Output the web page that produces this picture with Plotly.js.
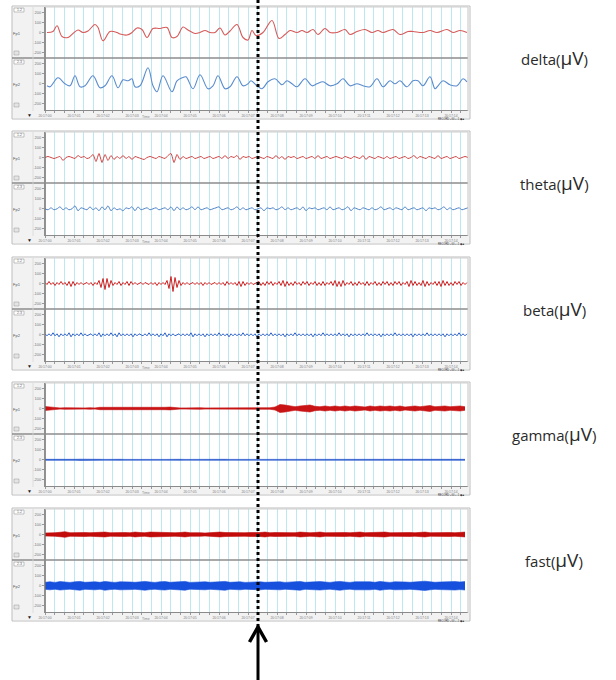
<!DOCTYPE html>
<html><head><meta charset="utf-8">
<script src="https://cdn.plot.ly/plotly-3.0.1.min.js"></script>
<style>html,body{margin:0;padding:0;background:#fff;}#chart{width:616px;height:680px;}</style>
</head><body><div id="chart"></div>
<script>
// ---------- DATA (x in samples, 29 samples = 1 s; y in microvolts) ----------
const bandNames = ['delta', 'theta', 'beta', 'gamma', 'fast'];
const channelNames = ['Fp1', 'Fp2'];
const timeTickVals = [0, 29, 58, 87, 116, 145, 174, 203, 232, 261, 290, 319, 348, 377, 406];
const timeTickText = ['20:17:00', '20:17:01', '20:17:02', '20:17:03', '20:17:04', '20:17:05', '20:17:06', '20:17:07',
  '20:17:08', '20:17:09', '20:17:10', '20:17:11', '20:17:12', '20:17:13', '20:17:14'];
const gridStep = 29 / 3;
const yTickVals = [-200, -100, 0, 100, 200];
const yTickText = ['-200', '-100', '0', '100', '200'];

// delta (slow waves, key points)
const deltaRedX = [2,8,12,17,23,28,33,38,43,50,53,58,65,72,75,82,87,92,97,102,108,115,122,127,132,138,143,150,155,160,165,170,175,180,185,192,198,203,207,211,218,227,234,240,245,252,257,262,268,273,280,285,292,300,305,312,320,327,333,338,348,355,363,368,378,385,392,402,408,415,422];
const deltaRedV = [0,10,67,-40,-50,-10,25,0,15,80,50,-83,10,0,-15,-25,0,45,30,-50,40,40,50,-50,-40,55,25,-10,0,20,0,0,45,-25,15,80,-50,-75,20,-30,0,120,-60,-20,20,0,20,0,30,-20,40,0,0,30,-20,10,30,0,20,0,30,-20,10,10,0,20,0,30,0,20,0];
const deltaBlueX = [2,5,13,20,25,30,35,40,48,55,60,67,73,78,83,87,90,95,103,108,112,118,127,132,137,141,148,155,163,168,173,180,185,192,198,203,206,212,217,223,230,237,242,247,252,260,267,272,278,285,292,298,305,312,318,325,332,338,345,350,355,362,368,373,378,385,390,393,398,405,412,418,422];
const deltaBlueV = [-20,-30,60,0,-20,80,-30,-20,80,-40,-20,80,-40,40,30,50,-30,-20,160,-20,-80,80,-80,30,60,70,-50,90,-50,-20,80,-50,-30,70,-20,0,30,-20,-50,20,50,-10,30,0,-30,50,-20,0,20,-20,0,50,-20,0,-20,-30,50,-30,30,0,30,-30,30,30,-20,70,-50,-20,30,-10,-20,50,20];

// theta (one value every 3 samples)
const thetaRedV = [0,10,0,-10,0,10,-30,0,10,0,-10,20,0,10,-10,0,30,-40,40,-50,30,-30,20,
  -20,10,-10,20,-10,10,-20,10,0,-10,-20,0,10,0,-10,10,0,-10,20,40,-50,30,-20,
  10,-10,0,10,-10,0,10,-10,0,10,-10,0,10,-10,20,-10,10,0,20,-20,10,0,10,
  -10,0,10,0,-10,10,0,-10,20,-10,10,-20,10,0,10,-10,0,10,-10,0,10,-10,20,-10,0,10,-10,0,10,0,
  -10,10,0,-10,10,0,-10,20,-20,10,0,-10,10,0,-10,10,-10,0,10,-10,0,10,-10,0,20,-10,10,0,-10,10,
  0,-10,20,-10,0,10,-10,0,10,-10,0,10,0];
const thetaBlueV = [0,-10,10,-10,0,20,-10,10,-10,0,30,-20,10,0,-10,20,-10,10,-20,20,-10,30,-20,10,-10,0,-20,10,0,20,
  -20,20,-10,0,10,-10,0,10,-10,0,10,-10,20,-20,20,-10,10,-10,0,20,-10,20,-10,0,10,-10,0,10,20,-10,0,10,-10,0,20,-10,10,-10,0,
  10,-10,0,10,-20,10,0,10,-10,0,20,-10,10,-10,0,10,-10,20,-20,10,0,10,-10,0,10,-10,20,-10,0,10,
  -10,0,20,-20,10,0,-10,10,0,-10,10,-10,0,20,-10,0,10,-10,10,0,-10,20,-10,0,10,-10,0,10,-20,10,
  0,10,-10,0,20,-10,10,-10,0,10,-10,0,10];

// beta (one value every 2 samples)
const betaRedV = [10,-10,20,-10,10,-20,10,-10,20,-10,10,-20,20,-30,20,-20,10,-10,10,-10,0,10,-10,10,-20,10,-10,
  30,-40,50,-60,50,-40,30,-20,
  10,-10,20,-20,10,-10,20,-20,20,-10,10,-10,0,10,-10,10,0,-10,10,-10,10,-20,10,-10,10,-10,
  30,-50,70,-80,60,-40,30,-20,
  10,-10,10,-10,0,10,-10,10,-10,10,-20,10,-10,10,-10,0,10,-10,10,-10,10,-20,20,-10,10,-10,10,-20,20,-30,20,-20,10,-10,10,-10,0,10,
  20,-20,10,-20,20,-10,20,-20,10,-10,20,-20,30,-30,20,-20,10,-20,20,-10,10,-20,20,-10,20,-20,10,-10,20,-20,
  10,-20,20,-20,10,-10,20,-20,30,-30,20,-30,30,-20,10,-10,20,-20,10,-20,20,-10,10,-20,20,-20,10,-10,20,-20,
  10,-20,20,-10,20,-20,10,-20,20,-10,20,-20,10,-10,20,-30,30,-20,20,-20,10,-20,30,-30,20,-20,10,-10,20,-20,
  20,-30,30,-20,20,-20,10,-20,20,-10,20,-20,10,-10,10];
const betaBlueV = [10,-10,10,-10,20,-10,10,-20,10,-10,10,-10,20,-20,10,-10,10,-10,20,-10,10,-10,0,10,-10,10,-10,20,-20,10,
  -10,10,-10,20,-10,10,-20,20,-10,10,-10,10,-10,10,-20,10,-10,10,0,-10,10,-10,20,-10,10,-10,10,-20,10,-10,
  20,-20,10,-10,10,-10,0,10,-10,10,-10,10,-10,20,-20,10,-10,10,-10,10,-20,10,-10,10,-10,10,-10,20,-10,10,
  -10,10,-20,10,-10,10,-10,10,-10,20,-10,10,-10,10,-10,10,-20,10,-10,10,-10,10,-10,20,-10,10,-10,10,-10,10,
  -20,10,-10,10,-10,20,-10,10,-10,10,-10,10,-10,10,-20,10,-10,10,-10,20,-10,10,-10,10,-10,10,-10,20,-10,10,
  -10,10,-20,10,-10,10,-10,10,-10,10,-10,20,-10,10,-10,10,-10,10,-20,10,-10,10,-10,10,-10,20,-10,10,-10,10,
  -10,10,-10,10,-20,10,-10,10,-10,10,-10,20,-10,10,-10,10,-10,10,-10,10,-20,10,-10,10,-10,10,-10,20,-10,10,-10,10];

// gamma and fast: amplitude envelope every 5 samples
const gammaRedAmp = [20,15,8,6,8,6,10,6,6,8, 6,12,12,8,6,6,8,6,6,8, 6,6,8,6,12,14,8,6,6,8,
  6,8,6,6,8,6,6,8,6,6,6,6,6, 6,6,8,15,40,35,25, 18,25,30,35,22,18,25,18,25,18,
  25,18,25,20,15,25,18,25,20,25, 18,25,15,20,25,18,25,30,18,20, 25,18,20,25,18];
const gammaBlueAmp = [5,4,6,4,5,4,5,6,4,5, 4,5,4,6,4,5,4,5,4,4, 5,4,5,4,4,6,4,5,4,5,
  4,5,4,4,5,4,5,4,4,5,4,4,5, 4,5,6,5,6,5,6, 5,6,5,5,6,5,6,5,5,6,
  5,6,5,6,5,5,6,5,6,5, 6,5,6,5,5,6,5,6,5,5, 6,5,5,6,5];
const fastRedAmp = [15,20,18,22,28,18,20,15,20,18, 20,18,24,18,20,15,20,18,24,20, 18,24,22,18,15,20,18,20,24,18,
  20,18,15,20,18,24,20,18,20,15, 18,20,18,20,24,18,20,18,22,20, 18,24,20,18,20,24,18,20,18,22,
  20,18,20,24,18,20,18,20,24,18, 20,18,24,20,18,20,24,18,20,18, 22,20,18,20,24];
const fastBlueAmp = [35,40,34,42,38,34,40,44,35,38, 40,35,44,38,34,40,42,38,35,40, 44,38,34,40,42,35,38,40,44,34,
  38,42,40,35,38,40,44,35,38,40, 34,38,42,40,35,38,44,40,34,38, 40,44,35,38,40,42,38,34,40,44,
  38,34,40,42,38,40,35,44,38,34, 40,42,38,35,40,44,46,40,35,38, 40,35,42,38,42];

// ---------- BUILD ----------
const W = 616, H = 680;
const PX = v => v / W;
const PY = v => 1 - v / H;
const tops = [7, 132, 258, 383, 509];
const RED = ['#d65a5a', '#d04444', '#cc2222', '#c81414', '#c20c0c'];
const BLUE = ['#5a8ccd', '#4d82c6', '#2d62c8', '#2354cc', '#1650dd'];

const gridVals = [], gridText = [];
for (let k = 0; k * gridStep <= 423; k++) {
  gridVals.push(k * gridStep);
  gridText.push(k % 3 === 0 ? timeTickText[k / 3] : '');
}

function ax(p, sub) {
  const xi = p + 1, yi = 2 * p + 1 + sub;
  return { xa: xi === 1 ? 'x' : 'x' + xi, ya: yi === 1 ? 'y' : 'y' + yi };
}
function lineTr(p, sub, x, y, color, shape) {
  const a = ax(p, sub);
  return { type: 'scatter', mode: 'lines', x: x, y: y, xaxis: a.xa, yaxis: a.ya,
    line: { color: color, width: 1.1, shape: shape, smoothing: 1 }, hoverinfo: 'skip' };
}
function uniTr(p, sub, y, dx, color, shape) {
  const a = ax(p, sub);
  return { type: 'scatter', mode: 'lines', x0: 0, dx: dx, y: y, xaxis: a.xa, yaxis: a.ya,
    line: { color: color, width: 1, shape: shape, smoothing: 0.6 }, hoverinfo: 'skip' };
}
function bandTr(p, sub, amp, dx, color) {
  const a = ax(p, sub);
  return [
    { type: 'scatter', mode: 'lines', x0: 0, dx: dx, y: amp, xaxis: a.xa, yaxis: a.ya,
      line: { color: color, width: 0.6 }, hoverinfo: 'skip' },
    { type: 'scatter', mode: 'lines', x0: 0, dx: dx, y: amp.map(v => -v), xaxis: a.xa, yaxis: a.ya,
      line: { color: color, width: 0.6 }, fill: 'tonexty', fillcolor: color, hoverinfo: 'skip' }
  ];
}

const data = [
  lineTr(0, 0, deltaRedX, deltaRedV, RED[0], 'spline'),
  lineTr(0, 1, deltaBlueX, deltaBlueV, BLUE[0], 'spline'),
  uniTr(1, 0, thetaRedV, 3, RED[1], 'spline'),
  uniTr(1, 1, thetaBlueV, 3, BLUE[1], 'spline'),
  uniTr(2, 0, betaRedV, 2, RED[2], 'linear'),
  uniTr(2, 1, betaBlueV, 2, BLUE[2], 'linear'),
  ...bandTr(3, 0, gammaRedAmp, 5, RED[3]),
  ...bandTr(3, 1, gammaBlueAmp, 5, BLUE[3]),
  ...bandTr(4, 0, fastRedAmp, 5, RED[4]),
  ...bandTr(4, 1, fastBlueAmp, 5, BLUE[4])
];

const layout = {
  width: W, height: H, autosize: false, showlegend: false,
  margin: { l: 0, r: 0, t: 0, b: 0, pad: 0 },
  paper_bgcolor: '#ffffff', plot_bgcolor: '#ffffff',
  font: { family: 'Liberation Sans, Arial, sans-serif', size: 4, color: '#666' },
  shapes: [], annotations: []
};

tops.forEach((T, p) => {
  const xi = p + 1;
  const xk = xi === 1 ? 'xaxis' : 'xaxis' + xi;
  const yTop = 2 * p + 1, yBot = 2 * p + 2;
  const ykTop = yTop === 1 ? 'yaxis' : 'yaxis' + yTop;
  const ykBot = 'yaxis' + yBot;
  layout[xk] = {
    domain: [PX(45), PX(468)], range: [0, 423], anchor: 'y' + yBot,
    tickmode: 'array', tickvals: gridVals, ticktext: gridText, tickangle: 0,
    ticks: 'outside', ticklen: 1.5, tickcolor: '#999', tickfont: { size: 3.4, color: '#7a7a7a' },
    ticklabelstandoff: -1.5,
    showgrid: true, gridcolor: '#bde7f1', gridwidth: 1, zeroline: false, showline: false,
    fixedrange: true
  };
  const yCommon = {
    anchor: xi === 1 ? 'x' : 'x' + xi, tickmode: 'array', tickvals: yTickVals, ticktext: yTickText,
    ticks: 'outside', ticklen: 2, tickcolor: '#999', tickfont: { size: 4, color: '#777' },
    showgrid: false, zeroline: false, showline: false, fixedrange: true
  };
  layout[ykTop] = Object.assign({}, yCommon, { domain: [PY(T + 51), PY(T)], range: [-255, 255] });
  layout[ykBot] = Object.assign({}, yCommon, { domain: [PY(T + 103), PY(T + 51)], range: [-262, 258] });

  const S = layout.shapes;
  const r = (x0, y0, x1, y1, fill, line, lw, layer) => S.push({ type: 'rect', xref: 'paper', yref: 'paper',
    x0: PX(x0), x1: PX(x1), y0: PY(y1), y1: PY(y0), fillcolor: fill, line: { color: line, width: lw }, layer: layer || 'below' });
  const l = (x0, y0, x1, y1, color, w) => S.push({ type: 'line', xref: 'paper', yref: 'paper',
    x0: PX(x0), x1: PX(x1), y0: PY(y0), y1: PY(y1), line: { color: color, width: w }, layer: 'above' });
  r(12, T, 45, T + 111, '#f2f2f2', 'rgba(0,0,0,0)', 0);
  r(45, T + 104, 470, T + 111, '#f2f2f2', 'rgba(0,0,0,0)', 0);
  r(12, T - 1, 470, T + 112, 'rgba(0,0,0,0)', '#bdbdbd', 1, 'above');
  l(45, T, 45, T + 104, '#6e6e6e', 1.5);
  l(12, T + 51, 468, T + 51, '#8c8c8c', 1.5);
  l(45, T + 103.5, 468, T + 103.5, '#8a8a8a', 1);
  l(468, T, 468, T + 104, '#c4c4c4', 1);
  l(45, T, 468, T, '#cfcfcf', 1);
  l(33, T, 33, T + 104, '#d8d8d8', 0.8);
  r(14, T + 1, 24, T + 5, '#ffffff', '#9a9a9a', 0.6, 'above');
  r(14, T + 53, 24, T + 57, '#ffffff', '#9a9a9a', 0.6, 'above');
  r(14, T + 44, 19, T + 48, '#e4e4e4', '#9a9a9a', 0.5, 'above');
  r(14, T + 96, 19, T + 100, '#e4e4e4', '#9a9a9a', 0.5, 'above');

  const A = layout.annotations;
  const t = (x, y, text, size, color, xanchor) => A.push({ xref: 'paper', yref: 'paper', x: PX(x), y: PY(y),
    text: text, showarrow: false, xanchor: xanchor || 'center', yanchor: 'middle',
    font: { size: size, color: color, family: 'Liberation Sans, Arial, sans-serif' } });
  t(19, T + 3, '1-2', 3.5, '#666');
  t(19, T + 55, '2-3', 3.5, '#666');
  t(17, T + 26, channelNames[0], 4, '#555');
  t(17, T + 77, channelNames[1], 4, '#555');
  t(29, T + 108, '▼', 5, '#222');
  t(146, T + 109.5, 'Time', 3.5, '#888');
  t(467, T + 111.6, 'RECORD ▪ 00 ▪ -1 ◆ ■', 2.6, '#333', 'right');
  A.push({ xref: 'paper', yref: 'paper', x: PX(554), y: PY(T + 51), showarrow: false,
    xanchor: 'center', yanchor: 'middle',
    text: bandNames[p] + '(<span style="font-size:19px">μV</span>)',
    font: { size: 15, color: '#2a2a2a', family: 'Open Sans, Liberation Sans, sans-serif' } });
});

layout.shapes.push({ type: 'line', xref: 'paper', yref: 'paper', x0: PX(258), x1: PX(258), y0: PY(0), y1: PY(628),
  line: { color: '#000', width: 3, dash: '3px,3px' }, layer: 'above' });
layout.shapes.push({ type: 'line', xref: 'paper', yref: 'paper', x0: PX(258), x1: PX(258), y0: PY(629), y1: PY(680),
  line: { color: '#000', width: 3 }, layer: 'above' });
layout.shapes.push({ type: 'path', xref: 'paper', yref: 'paper',
  path: 'M ' + PX(249.5) + ' ' + PY(642) + ' L ' + PX(258) + ' ' + PY(627) + ' L ' + PX(266.5) + ' ' + PY(642),
  line: { color: '#000', width: 3.5 }, layer: 'above' });

Plotly.newPlot('chart', data, layout, { staticPlot: true, displayModeBar: false });
</script></body></html>
